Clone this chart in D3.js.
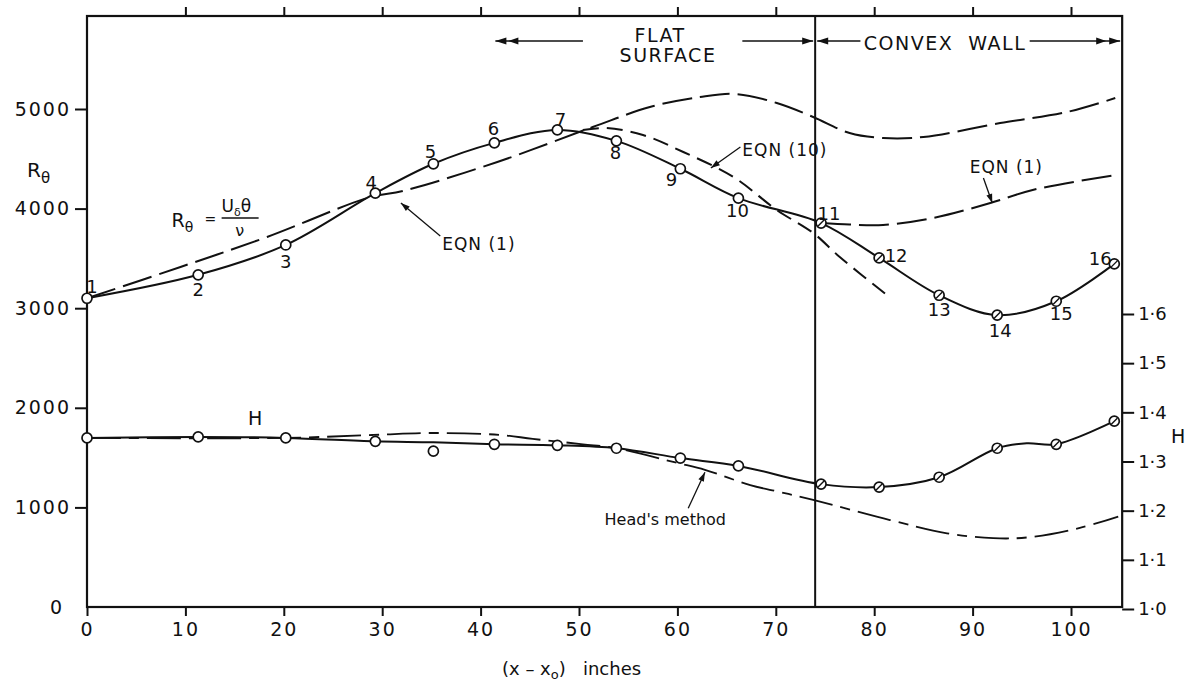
<!DOCTYPE html>
<html><head><meta charset="utf-8">
<script src="https://cdn.jsdelivr.net/npm/d3@7"></script>
<style>
body{margin:0;background:#fff;}
svg text{font-family:"DejaVu Sans",sans-serif;fill:#111;}
.tick text{font-size:19px;letter-spacing:2px;}
.rax .tick text{letter-spacing:0px;font-size:18px;}
</style></head><body>
<svg id="c" width="1194" height="683"></svg>
<script>
// ---------- data ----------
const stations      = [0, 11.3, 20.2, 29.3, 35.2, 41.4, 47.8, 53.8, 60.3, 66.2, 74.6, 80.5, 86.6, 92.5, 98.5, 104.4];
const stationLabels = ["1","2","3","4","5","6","7","8","9","10","11","12","13","14","15","16"];
const rTheta        = [3100, 3335, 3635, 4155, 4450, 4660, 4790, 4680, 4400, 4105, 3855, 3505, 3130, 2930, 3070, 3445];
const hMeasured     = [1.348, 1.350, 1.348, 1.341, 1.321, 1.335, 1.333, 1.327, 1.307, 1.291, 1.254, 1.248, 1.268, 1.327, 1.335, 1.382];
const hatchedFrom   = 10; // stations 11-16 (convex wall) drawn as hatched circles

// faired H curve
const hCurveX = [0, 11.3, 20.2, 29.3, 35.2, 41.4, 47.8, 53.8, 60.3, 66.2, 74.6, 80.5, 86.6, 92.5, 95.5, 98.5, 104.4];
const hCurveY = [1.348, 1.350, 1.348, 1.341, 1.339, 1.335, 1.333, 1.327, 1.307, 1.291, 1.254, 1.248, 1.268, 1.327, 1.337, 1.335, 1.382];

// EQN (1) from station 1 (flat surface start)
const eq1aX = [0, 9.5, 18.3, 28.8, 32.1, 41.7, 51.4, 57.2, 62.3, 66.0, 70.1, 73.8, 77.5, 80.9, 85.0, 92.8, 99.6, 104.5];
const eq1aY = [3100, 3414, 3715, 4116, 4177, 4468, 4819, 5020, 5120, 5150, 5060, 4920, 4759, 4709, 4719, 4859, 4970, 5110];
// EQN (10)
const eq10X = [50.4, 52.8, 56.5, 60.6, 65.7, 70.1, 73.8, 76.5, 81.3];
const eq10Y = [4789, 4809, 4739, 4568, 4317, 3986, 3755, 3514, 3132];
// EQN (1) from station 11 (convex wall start)
const eq1bX = [74.6, 77.5, 80.9, 86.0, 91.8, 96.1, 104.5];
const eq1bY = [3855, 3840, 3835, 3906, 4056, 4187, 4337];
// Head's method (H)
const headX = [0, 20.1, 29.1, 35.2, 42.0, 45.3, 50.4, 53.8, 60.0, 62.8, 67.4, 70.4, 73.8, 81.6, 87.4, 92.1, 95.8, 100.9, 104.8];
const headY = [1.348, 1.348, 1.354, 1.358, 1.354, 1.346, 1.335, 1.327, 1.297, 1.283, 1.252, 1.238, 1.222, 1.181, 1.154, 1.144, 1.146, 1.165, 1.188];

// axes ticks
const xTicks  = [0,10,20,30,40,50,60,70,80,90,100];
const topTicks= [10,20,30,40,50,60,70,80,90,100];
const rTicks  = [1000,2000,3000,4000,5000];
const hTicks  = [1.0,1.1,1.2,1.3,1.4,1.5,1.6];
const wallX   = 74;

// ---------- scales ----------
const x  = d3.scaleLinear().domain([0,100]).range([87,1071]);
const yR = d3.scaleLinear().domain([0,5000]).range([607,109]);
const yH = d3.scaleLinear().domain([1.0,1.6]).range([609,314]);
const FR = {l:x(0), r:x(105.2), t:16, b:yR(0)};
const INK = "#111";

const svg = d3.select("#c");
const g = svg.append("g");

// frame
g.append("rect").attr("x",FR.l).attr("y",FR.t).attr("width",FR.r-FR.l).attr("height",FR.b-FR.t)
 .attr("fill","none").attr("stroke",INK).attr("stroke-width",2.2);

function styleAxis(sel){
  sel.attr("color",INK);
  sel.select(".domain").remove();
  sel.selectAll(".tick line").attr("stroke-width",2);
  sel.selectAll(".tick text").attr("font-family",null).attr("font-size",null);
}
const axB = g.append("g").attr("transform",`translate(0,${FR.b})`)
  .call(d3.axisBottom(x).tickValues(xTicks).tickSize(9).tickPadding(7).tickFormat(d=>String(d)));
styleAxis(axB);
const axT = g.append("g").attr("transform",`translate(0,${FR.t})`)
  .call(d3.axisTop(x).tickValues(topTicks).tickSize(9).tickFormat(""));
styleAxis(axT);
const axL = g.append("g").attr("transform",`translate(${FR.l},0)`)
  .call(d3.axisLeft(yR).tickValues(rTicks).tickSize(12).tickPadding(4).tickFormat(d=>String(d)));
styleAxis(axL);
const axR = g.append("g").attr("class","rax").attr("transform",`translate(${FR.r},0)`)
  .call(d3.axisRight(yH).tickValues(hTicks).tickSize(12).tickPadding(4).tickFormat(d=>d.toFixed(1).replace(".","·")));
styleAxis(axR);
// "0" on left axis (no tick)
g.append("text").attr("x",FR.l-25).attr("y",yR(0)).attr("dy","0.35em").attr("text-anchor","end")
 .attr("font-size",19).text("0");

// wall line
g.append("line").attr("x1",x(wallX)).attr("x2",x(wallX)).attr("y1",FR.t).attr("y2",FR.b)
 .attr("stroke",INK).attr("stroke-width",2);

// ---------- curves ----------
const cr = d3.curveCatmullRom.alpha(0.5);
const lineR = d3.line().x(d=>x(d[0])).y(d=>yR(d[1])).curve(cr);
const lineH = d3.line().x(d=>x(d[0])).y(d=>yH(d[1])).curve(cr);
function path(gen, xs, ys, dash, w){
  g.append("path").attr("d",gen(d3.zip(xs,ys))).attr("fill","none").attr("stroke",INK)
   .attr("stroke-width",w||2).attr("stroke-dasharray",dash||null).attr("stroke-linecap","butt");
}
path(lineR, stations, rTheta);
path(lineR, eq1aX, eq1aY, "30,8");
path(lineR, eq10X, eq10Y, "16,8");
path(lineR, eq1bX, eq1bY, "30,8");
path(lineH, hCurveX, hCurveY);
path(lineH, headX, headY, "34,8,10,8", 1.8);

// ---------- points ----------
function points(ys, ysc){
  stations.forEach((s,i)=>{
    const cx=x(s), cy=ysc(ys[i]);
    g.append("circle").attr("cx",cx).attr("cy",cy).attr("r",5).attr("fill","#fff")
     .attr("stroke",INK).attr("stroke-width",1.7);
    if(i>=hatchedFrom){
      g.append("line").attr("x1",cx-3).attr("y1",cy+3).attr("x2",cx+3).attr("y2",cy-3)
       .attr("stroke",INK).attr("stroke-width",1.4);
    }
  });
}
points(rTheta, yR);
points(hMeasured, yH);

// station labels
const labelOff = [[5,-12],[0,15],[0,17],[-4,-11],[-3,-12],[-1,-14],[3,-10],[-1,12],[-9,11],[-1,12],[8,-10],[17,-2],[0,14],[3,15],[5,12],[-14,-5]];
stationLabels.forEach((t,i)=>{
  g.append("text").attr("x",x(stations[i])+labelOff[i][0]).attr("y",yR(rTheta[i])+labelOff[i][1])
   .attr("dy","0.36em").attr("text-anchor","middle").attr("font-size",18).text(t);
});

// ---------- annotations ----------
function arrowHead(px,py,ang,len,wid){
  len=len||10; wid=wid||3.5;
  const c=Math.cos(ang), s=Math.sin(ang);
  const bx=px-len*c, by=py-len*s;
  g.append("path").attr("d",`M${px},${py}L${bx - wid*s},${by + wid*c}L${bx + wid*s},${by - wid*c}Z`).attr("fill",INK);
}
function arrow(x1,y1,x2,y2,w){
  g.append("line").attr("x1",x1).attr("y1",y1).attr("x2",x2).attr("y2",y2).attr("stroke",INK).attr("stroke-width",w||1.3);
  arrowHead(x2,y2,Math.atan2(y2-y1,x2-x1),9,3);
}
function label(px,py,txt,fs,anchor,ls){
  return g.append("text").attr("x",px).attr("y",py).attr("font-size",fs).attr("text-anchor",anchor||"start")
   .attr("letter-spacing",ls||0).style("white-space","pre").text(txt);
}

// top region arrows
const ya = 41;
g.append("line").attr("x1",x(41.5)).attr("x2",x(50.4)).attr("y1",ya).attr("y2",ya).attr("stroke",INK).attr("stroke-width",1.5);
arrowHead(x(41.5),ya,Math.PI,11,3.5); arrowHead(x(41.5)+13,ya,Math.PI,10,3.5);
g.append("line").attr("x1",x(66.6)).attr("x2",x(wallX)-2).attr("y1",ya).attr("y2",ya).attr("stroke",INK).attr("stroke-width",1.5);
arrowHead(x(wallX)-2,ya,0,11,3.5);
g.append("line").attr("x1",x(wallX)+2).attr("x2",x(78.6)).attr("y1",ya).attr("y2",ya).attr("stroke",INK).attr("stroke-width",1.5);
arrowHead(x(wallX)+2,ya,Math.PI,11,3.5);
g.append("line").attr("x1",x(95.8)).attr("x2",FR.r-2).attr("y1",ya).attr("y2",ya).attr("stroke",INK).attr("stroke-width",1.5);
arrowHead(FR.r-2,ya,0,11,3.5); arrowHead(FR.r-16,ya,0,10,3.5);
label(660,42,"FLAT",19,"middle",1.5);
label(668,62,"SURFACE",19,"middle",1.5);
label(945,50,"CONVEX  WALL",19,"middle",1.5);

// EQN labels
label(x(36.1),yR(3584),"EQN (1)",17,"start",1);
arrow(x(35.9),yR(3725),x(31.9),yR(4056));
label(x(66.6),yR(4528),"EQN (10)",17,"start",1);
arrow(x(66.4),yR(4618),x(63.4),yR(4408));
label(x(89.7),yR(4357),"EQN (1)",17,"start",1);
arrow(x(91.1),yR(4307),x(92.0),yR(4056));
label(x(52.6),yH(1.171),"Head's method",16,"start",0);
arrow(x(61.1),yH(1.205),x(62.8),yH(1.278));
label(x(17.1),yH(1.374),"H",19,"middle",0);

// R_theta definition
(function(){
  const ax = x(8.6), ay = yR(3815);
  const t = g.append("text").attr("x",ax).attr("y",ay).attr("font-size",19);
  t.append("tspan").text("R");
  t.append("tspan").attr("dy",5).attr("font-size",14).text("θ");
  g.append("text").attr("x",ax+33).attr("y",ay-3).attr("font-size",14).text("=");
  const n = g.append("text").attr("x",ax+50).attr("y",ay-15).attr("font-size",17);
  n.append("tspan").text("U");
  n.append("tspan").attr("dy",4).attr("font-size",11).text("δ");
  n.append("tspan").attr("dy",-4).text("θ");
  g.append("line").attr("x1",ax+50).attr("x2",ax+87).attr("y1",ay-9).attr("y2",ay-9).attr("stroke",INK).attr("stroke-width",1.6);
  g.append("text").attr("x",ax+68).attr("y",ay+9).attr("font-size",16).attr("text-anchor","middle").text("ν");
})();

// axis titles
(function(){
  const t = g.append("text").attr("x",27).attr("y",177).attr("font-size",20);
  t.append("tspan").text("R");
  t.append("tspan").attr("dy",6).attr("font-size",15).text("θ");
  label(1171,443,"H",19,"start",0);
  const xt = g.append("text").attr("x",502).attr("y",675).attr("font-size",18).style("white-space","pre");
  xt.append("tspan").text("(x – x");
  xt.append("tspan").attr("dy",4).attr("font-size",13).text("o");
  xt.append("tspan").attr("dy",-4).text(")   inches");
})();
</script>
</body></html>
